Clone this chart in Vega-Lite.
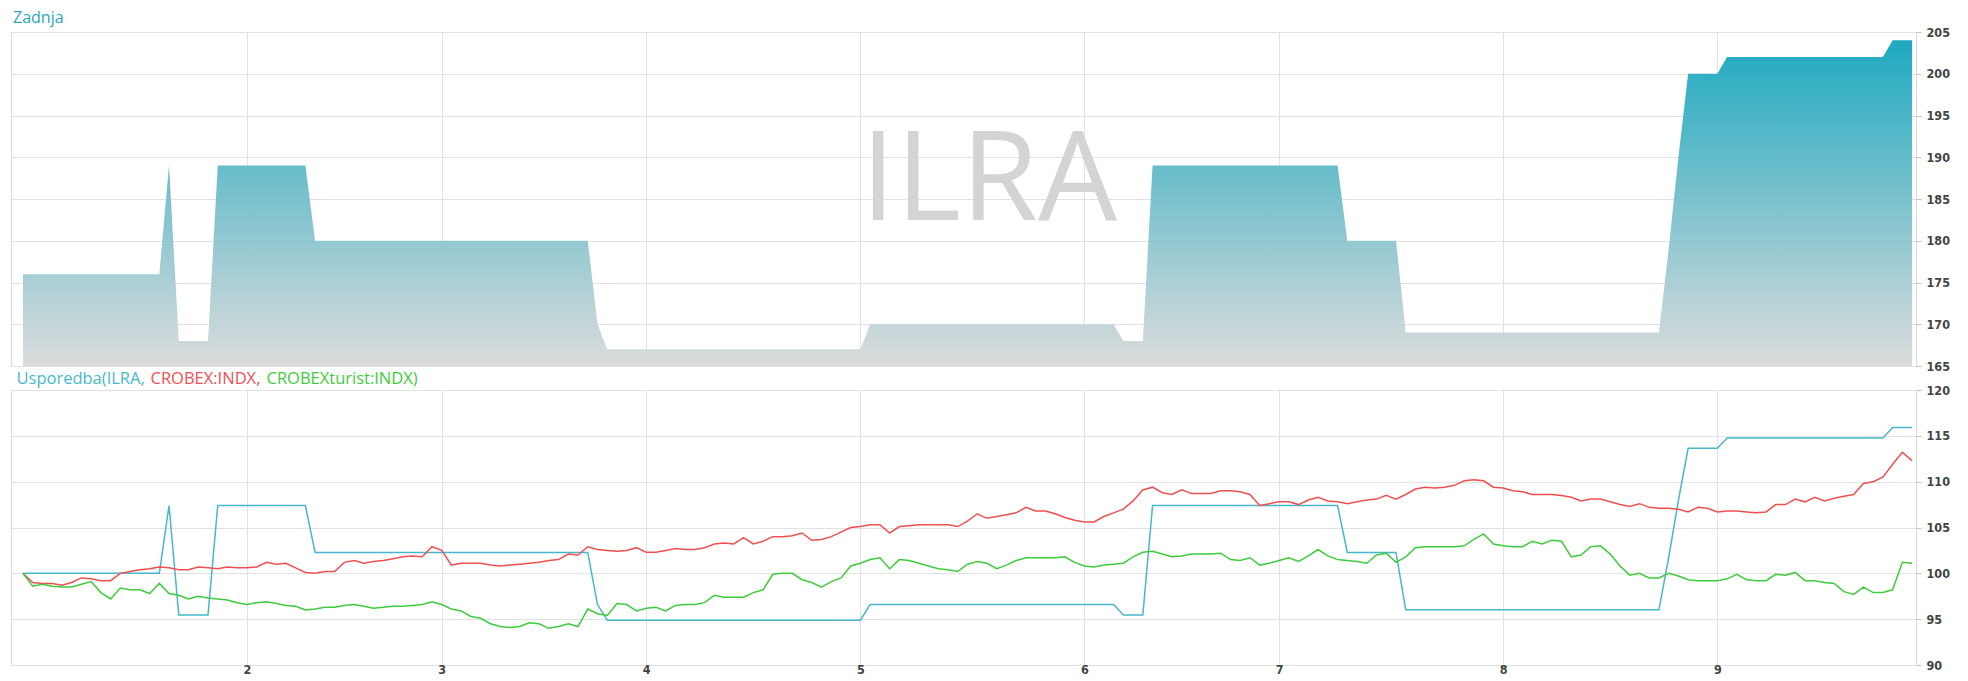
{
"$schema": "https://vega.github.io/schema/vega-lite/v6.json",
"background": "white",
"padding": {"left": 10, "top": 9, "right": 0, "bottom": 0},
"autosize": {"type": "pad"},
"bounds": "flush",
"spacing": 24,
"config": {
  "view": {"stroke": "#d9d9d9", "strokeWidth": 1},
  "axis": {"gridColor": "#e2e2e2", "domainColor": "#d9d9d9", "tickColor": "#c4c4c4", "labelFont": "'DejaVu Sans Condensed', 'Liberation Sans', sans-serif", "labelFontWeight": "bold", "labelColor": "#444444", "labelFontSize": 12.5, "title": null}
},
"datasets": {"d": [
{"i":0,"zadnja":176,"ILRA":100,"CROBEX":100,"CROBEXturist":100},
{"i":1,"zadnja":176,"ILRA":100,"CROBEX":99.0,"CROBEXturist":98.6},
{"i":2,"zadnja":176,"ILRA":100,"CROBEX":98.9,"CROBEXturist":98.8},
{"i":3,"zadnja":176,"ILRA":100,"CROBEX":98.9,"CROBEXturist":98.6},
{"i":4,"zadnja":176,"ILRA":100,"CROBEX":98.7,"CROBEXturist":98.5},
{"i":5,"zadnja":176,"ILRA":100,"CROBEX":99.0,"CROBEXturist":98.5},
{"i":6,"zadnja":176,"ILRA":100,"CROBEX":99.5,"CROBEXturist":98.8},
{"i":7,"zadnja":176,"ILRA":100,"CROBEX":99.4,"CROBEXturist":99.1},
{"i":8,"zadnja":176,"ILRA":100,"CROBEX":99.2,"CROBEXturist":97.9},
{"i":9,"zadnja":176,"ILRA":100,"CROBEX":99.2,"CROBEXturist":97.2},
{"i":10,"zadnja":176,"ILRA":100,"CROBEX":100.0,"CROBEXturist":98.4},
{"i":11,"zadnja":176,"ILRA":100,"CROBEX":100.2,"CROBEXturist":98.2},
{"i":12,"zadnja":176,"ILRA":100,"CROBEX":100.4,"CROBEXturist":98.2},
{"i":13,"zadnja":176,"ILRA":100,"CROBEX":100.5,"CROBEXturist":97.8},
{"i":14,"zadnja":176,"ILRA":100,"CROBEX":100.7,"CROBEXturist":98.9},
{"i":15,"zadnja":189,"ILRA":107.39,"CROBEX":100.6,"CROBEXturist":97.8},
{"i":16,"zadnja":168,"ILRA":95.45,"CROBEX":100.4,"CROBEXturist":97.6},
{"i":17,"zadnja":168,"ILRA":95.45,"CROBEX":100.4,"CROBEXturist":97.2},
{"i":18,"zadnja":168,"ILRA":95.45,"CROBEX":100.7,"CROBEXturist":97.5},
{"i":19,"zadnja":168,"ILRA":95.45,"CROBEX":100.6,"CROBEXturist":97.3},
{"i":20,"zadnja":189,"ILRA":107.39,"CROBEX":100.5,"CROBEXturist":97.2},
{"i":21,"zadnja":189,"ILRA":107.39,"CROBEX":100.7,"CROBEXturist":97.1},
{"i":22,"zadnja":189,"ILRA":107.39,"CROBEX":100.6,"CROBEXturist":96.8},
{"i":23,"zadnja":189,"ILRA":107.39,"CROBEX":100.6,"CROBEXturist":96.6},
{"i":24,"zadnja":189,"ILRA":107.39,"CROBEX":100.7,"CROBEXturist":96.8},
{"i":25,"zadnja":189,"ILRA":107.39,"CROBEX":101.2,"CROBEXturist":96.9},
{"i":26,"zadnja":189,"ILRA":107.39,"CROBEX":101.0,"CROBEXturist":96.7},
{"i":27,"zadnja":189,"ILRA":107.39,"CROBEX":101.1,"CROBEXturist":96.5},
{"i":28,"zadnja":189,"ILRA":107.39,"CROBEX":100.6,"CROBEXturist":96.4},
{"i":29,"zadnja":189,"ILRA":107.39,"CROBEX":100.1,"CROBEXturist":96.0},
{"i":30,"zadnja":180,"ILRA":102.27,"CROBEX":100.0,"CROBEXturist":96.1},
{"i":31,"zadnja":180,"ILRA":102.27,"CROBEX":100.2,"CROBEXturist":96.3},
{"i":32,"zadnja":180,"ILRA":102.27,"CROBEX":100.2,"CROBEXturist":96.3},
{"i":33,"zadnja":180,"ILRA":102.27,"CROBEX":101.2,"CROBEXturist":96.5},
{"i":34,"zadnja":180,"ILRA":102.27,"CROBEX":101.4,"CROBEXturist":96.6},
{"i":35,"zadnja":180,"ILRA":102.27,"CROBEX":101.1,"CROBEXturist":96.4},
{"i":36,"zadnja":180,"ILRA":102.27,"CROBEX":101.3,"CROBEXturist":96.2},
{"i":37,"zadnja":180,"ILRA":102.27,"CROBEX":101.4,"CROBEXturist":96.3},
{"i":38,"zadnja":180,"ILRA":102.27,"CROBEX":101.6,"CROBEXturist":96.4},
{"i":39,"zadnja":180,"ILRA":102.27,"CROBEX":101.8,"CROBEXturist":96.4},
{"i":40,"zadnja":180,"ILRA":102.27,"CROBEX":101.9,"CROBEXturist":96.5},
{"i":41,"zadnja":180,"ILRA":102.27,"CROBEX":101.8,"CROBEXturist":96.6},
{"i":42,"zadnja":180,"ILRA":102.27,"CROBEX":102.9,"CROBEXturist":96.9},
{"i":43,"zadnja":180,"ILRA":102.27,"CROBEX":102.5,"CROBEXturist":96.6},
{"i":44,"zadnja":180,"ILRA":102.27,"CROBEX":100.9,"CROBEXturist":96.1},
{"i":45,"zadnja":180,"ILRA":102.27,"CROBEX":101.1,"CROBEXturist":95.9},
{"i":46,"zadnja":180,"ILRA":102.27,"CROBEX":101.1,"CROBEXturist":95.3},
{"i":47,"zadnja":180,"ILRA":102.27,"CROBEX":101.1,"CROBEXturist":95.1},
{"i":48,"zadnja":180,"ILRA":102.27,"CROBEX":100.9,"CROBEXturist":94.5},
{"i":49,"zadnja":180,"ILRA":102.27,"CROBEX":100.8,"CROBEXturist":94.2},
{"i":50,"zadnja":180,"ILRA":102.27,"CROBEX":100.9,"CROBEXturist":94.1},
{"i":51,"zadnja":180,"ILRA":102.27,"CROBEX":101.0,"CROBEXturist":94.2},
{"i":52,"zadnja":180,"ILRA":102.27,"CROBEX":101.1,"CROBEXturist":94.6},
{"i":53,"zadnja":180,"ILRA":102.27,"CROBEX":101.2,"CROBEXturist":94.5},
{"i":54,"zadnja":180,"ILRA":102.27,"CROBEX":101.4,"CROBEXturist":94.0},
{"i":55,"zadnja":180,"ILRA":102.27,"CROBEX":101.5,"CROBEXturist":94.2},
{"i":56,"zadnja":180,"ILRA":102.27,"CROBEX":102.1,"CROBEXturist":94.5},
{"i":57,"zadnja":180,"ILRA":102.27,"CROBEX":102.0,"CROBEXturist":94.2},
{"i":58,"zadnja":180,"ILRA":102.27,"CROBEX":102.9,"CROBEXturist":96.1},
{"i":59,"zadnja":170,"ILRA":96.59,"CROBEX":102.6,"CROBEXturist":95.6},
{"i":60,"zadnja":167,"ILRA":94.89,"CROBEX":102.5,"CROBEXturist":95.4},
{"i":61,"zadnja":167,"ILRA":94.89,"CROBEX":102.4,"CROBEXturist":96.7},
{"i":62,"zadnja":167,"ILRA":94.89,"CROBEX":102.5,"CROBEXturist":96.6},
{"i":63,"zadnja":167,"ILRA":94.89,"CROBEX":102.8,"CROBEXturist":95.9},
{"i":64,"zadnja":167,"ILRA":94.89,"CROBEX":102.3,"CROBEXturist":96.2},
{"i":65,"zadnja":167,"ILRA":94.89,"CROBEX":102.3,"CROBEXturist":96.3},
{"i":66,"zadnja":167,"ILRA":94.89,"CROBEX":102.5,"CROBEXturist":95.9},
{"i":67,"zadnja":167,"ILRA":94.89,"CROBEX":102.7,"CROBEXturist":96.5},
{"i":68,"zadnja":167,"ILRA":94.89,"CROBEX":102.6,"CROBEXturist":96.6},
{"i":69,"zadnja":167,"ILRA":94.89,"CROBEX":102.6,"CROBEXturist":96.6},
{"i":70,"zadnja":167,"ILRA":94.89,"CROBEX":102.8,"CROBEXturist":96.8},
{"i":71,"zadnja":167,"ILRA":94.89,"CROBEX":103.2,"CROBEXturist":97.6},
{"i":72,"zadnja":167,"ILRA":94.89,"CROBEX":103.3,"CROBEXturist":97.4},
{"i":73,"zadnja":167,"ILRA":94.89,"CROBEX":103.2,"CROBEXturist":97.4},
{"i":74,"zadnja":167,"ILRA":94.89,"CROBEX":103.9,"CROBEXturist":97.4},
{"i":75,"zadnja":167,"ILRA":94.89,"CROBEX":103.2,"CROBEXturist":97.9},
{"i":76,"zadnja":167,"ILRA":94.89,"CROBEX":103.5,"CROBEXturist":98.2},
{"i":77,"zadnja":167,"ILRA":94.89,"CROBEX":104.0,"CROBEXturist":99.9},
{"i":78,"zadnja":167,"ILRA":94.89,"CROBEX":104.0,"CROBEXturist":100.0},
{"i":79,"zadnja":167,"ILRA":94.89,"CROBEX":104.1,"CROBEXturist":100.0},
{"i":80,"zadnja":167,"ILRA":94.89,"CROBEX":104.4,"CROBEXturist":99.3},
{"i":81,"zadnja":167,"ILRA":94.89,"CROBEX":103.6,"CROBEXturist":99.0},
{"i":82,"zadnja":167,"ILRA":94.89,"CROBEX":103.7,"CROBEXturist":98.5},
{"i":83,"zadnja":167,"ILRA":94.89,"CROBEX":104.0,"CROBEXturist":99.1},
{"i":84,"zadnja":167,"ILRA":94.89,"CROBEX":104.5,"CROBEXturist":99.5},
{"i":85,"zadnja":167,"ILRA":94.89,"CROBEX":105.0,"CROBEXturist":100.8},
{"i":86,"zadnja":167,"ILRA":94.89,"CROBEX":105.1,"CROBEXturist":101.1},
{"i":87,"zadnja":170,"ILRA":96.59,"CROBEX":105.3,"CROBEXturist":101.5},
{"i":88,"zadnja":170,"ILRA":96.59,"CROBEX":105.3,"CROBEXturist":101.7},
{"i":89,"zadnja":170,"ILRA":96.59,"CROBEX":104.4,"CROBEXturist":100.5},
{"i":90,"zadnja":170,"ILRA":96.59,"CROBEX":105.1,"CROBEXturist":101.5},
{"i":91,"zadnja":170,"ILRA":96.59,"CROBEX":105.2,"CROBEXturist":101.4},
{"i":92,"zadnja":170,"ILRA":96.59,"CROBEX":105.3,"CROBEXturist":101.1},
{"i":93,"zadnja":170,"ILRA":96.59,"CROBEX":105.3,"CROBEXturist":100.8},
{"i":94,"zadnja":170,"ILRA":96.59,"CROBEX":105.3,"CROBEXturist":100.5},
{"i":95,"zadnja":170,"ILRA":96.59,"CROBEX":105.3,"CROBEXturist":100.4},
{"i":96,"zadnja":170,"ILRA":96.59,"CROBEX":105.1,"CROBEXturist":100.2},
{"i":97,"zadnja":170,"ILRA":96.59,"CROBEX":105.7,"CROBEXturist":101.0},
{"i":98,"zadnja":170,"ILRA":96.59,"CROBEX":106.5,"CROBEXturist":101.3},
{"i":99,"zadnja":170,"ILRA":96.59,"CROBEX":106.0,"CROBEXturist":101.1},
{"i":100,"zadnja":170,"ILRA":96.59,"CROBEX":106.2,"CROBEXturist":100.5},
{"i":101,"zadnja":170,"ILRA":96.59,"CROBEX":106.4,"CROBEXturist":100.9},
{"i":102,"zadnja":170,"ILRA":96.59,"CROBEX":106.6,"CROBEXturist":101.4},
{"i":103,"zadnja":170,"ILRA":96.59,"CROBEX":107.2,"CROBEXturist":101.7},
{"i":104,"zadnja":170,"ILRA":96.59,"CROBEX":106.8,"CROBEXturist":101.7},
{"i":105,"zadnja":170,"ILRA":96.59,"CROBEX":106.8,"CROBEXturist":101.7},
{"i":106,"zadnja":170,"ILRA":96.59,"CROBEX":106.5,"CROBEXturist":101.7},
{"i":107,"zadnja":170,"ILRA":96.59,"CROBEX":106.1,"CROBEXturist":101.8},
{"i":108,"zadnja":170,"ILRA":96.59,"CROBEX":105.8,"CROBEXturist":101.2},
{"i":109,"zadnja":170,"ILRA":96.59,"CROBEX":105.6,"CROBEXturist":100.8},
{"i":110,"zadnja":170,"ILRA":96.59,"CROBEX":105.6,"CROBEXturist":100.7},
{"i":111,"zadnja":170,"ILRA":96.59,"CROBEX":106.2,"CROBEXturist":100.9},
{"i":112,"zadnja":170,"ILRA":96.59,"CROBEX":106.6,"CROBEXturist":101.0},
{"i":113,"zadnja":168,"ILRA":95.45,"CROBEX":107.0,"CROBEXturist":101.1},
{"i":114,"zadnja":168,"ILRA":95.45,"CROBEX":107.9,"CROBEXturist":101.8},
{"i":115,"zadnja":168,"ILRA":95.45,"CROBEX":109.1,"CROBEXturist":102.3},
{"i":116,"zadnja":189,"ILRA":107.39,"CROBEX":109.4,"CROBEXturist":102.4},
{"i":117,"zadnja":189,"ILRA":107.39,"CROBEX":108.8,"CROBEXturist":102.1},
{"i":118,"zadnja":189,"ILRA":107.39,"CROBEX":108.6,"CROBEXturist":101.8},
{"i":119,"zadnja":189,"ILRA":107.39,"CROBEX":109.1,"CROBEXturist":101.9},
{"i":120,"zadnja":189,"ILRA":107.39,"CROBEX":108.7,"CROBEXturist":102.1},
{"i":121,"zadnja":189,"ILRA":107.39,"CROBEX":108.7,"CROBEXturist":102.1},
{"i":122,"zadnja":189,"ILRA":107.39,"CROBEX":108.7,"CROBEXturist":102.1},
{"i":123,"zadnja":189,"ILRA":107.39,"CROBEX":109.0,"CROBEXturist":102.2},
{"i":124,"zadnja":189,"ILRA":107.39,"CROBEX":109.0,"CROBEXturist":101.5},
{"i":125,"zadnja":189,"ILRA":107.39,"CROBEX":108.9,"CROBEXturist":101.4},
{"i":126,"zadnja":189,"ILRA":107.39,"CROBEX":108.6,"CROBEXturist":101.7},
{"i":127,"zadnja":189,"ILRA":107.39,"CROBEX":107.4,"CROBEXturist":100.9},
{"i":128,"zadnja":189,"ILRA":107.39,"CROBEX":107.6,"CROBEXturist":101.1},
{"i":129,"zadnja":189,"ILRA":107.39,"CROBEX":107.8,"CROBEXturist":101.4},
{"i":130,"zadnja":189,"ILRA":107.39,"CROBEX":107.8,"CROBEXturist":101.7},
{"i":131,"zadnja":189,"ILRA":107.39,"CROBEX":107.5,"CROBEXturist":101.3},
{"i":132,"zadnja":189,"ILRA":107.39,"CROBEX":108.0,"CROBEXturist":101.9},
{"i":133,"zadnja":189,"ILRA":107.39,"CROBEX":108.3,"CROBEXturist":102.6},
{"i":134,"zadnja":189,"ILRA":107.39,"CROBEX":107.9,"CROBEXturist":101.9},
{"i":135,"zadnja":189,"ILRA":107.39,"CROBEX":107.8,"CROBEXturist":101.5},
{"i":136,"zadnja":180,"ILRA":102.27,"CROBEX":107.6,"CROBEXturist":101.4},
{"i":137,"zadnja":180,"ILRA":102.27,"CROBEX":107.8,"CROBEXturist":101.3},
{"i":138,"zadnja":180,"ILRA":102.27,"CROBEX":108.0,"CROBEXturist":101.1},
{"i":139,"zadnja":180,"ILRA":102.27,"CROBEX":108.1,"CROBEXturist":102.0},
{"i":140,"zadnja":180,"ILRA":102.27,"CROBEX":108.5,"CROBEXturist":102.2},
{"i":141,"zadnja":180,"ILRA":102.27,"CROBEX":108.1,"CROBEXturist":101.2},
{"i":142,"zadnja":169,"ILRA":96.02,"CROBEX":108.6,"CROBEXturist":101.8},
{"i":143,"zadnja":169,"ILRA":96.02,"CROBEX":109.2,"CROBEXturist":102.8},
{"i":144,"zadnja":169,"ILRA":96.02,"CROBEX":109.4,"CROBEXturist":102.9},
{"i":145,"zadnja":169,"ILRA":96.02,"CROBEX":109.3,"CROBEXturist":102.9},
{"i":146,"zadnja":169,"ILRA":96.02,"CROBEX":109.4,"CROBEXturist":102.9},
{"i":147,"zadnja":169,"ILRA":96.02,"CROBEX":109.6,"CROBEXturist":102.9},
{"i":148,"zadnja":169,"ILRA":96.02,"CROBEX":110.1,"CROBEXturist":103.0},
{"i":149,"zadnja":169,"ILRA":96.02,"CROBEX":110.2,"CROBEXturist":103.7},
{"i":150,"zadnja":169,"ILRA":96.02,"CROBEX":110.1,"CROBEXturist":104.3},
{"i":151,"zadnja":169,"ILRA":96.02,"CROBEX":109.4,"CROBEXturist":103.2},
{"i":152,"zadnja":169,"ILRA":96.02,"CROBEX":109.3,"CROBEXturist":103.0},
{"i":153,"zadnja":169,"ILRA":96.02,"CROBEX":109.0,"CROBEXturist":102.9},
{"i":154,"zadnja":169,"ILRA":96.02,"CROBEX":108.9,"CROBEXturist":102.9},
{"i":155,"zadnja":169,"ILRA":96.02,"CROBEX":108.6,"CROBEXturist":103.5},
{"i":156,"zadnja":169,"ILRA":96.02,"CROBEX":108.6,"CROBEXturist":103.2},
{"i":157,"zadnja":169,"ILRA":96.02,"CROBEX":108.6,"CROBEXturist":103.6},
{"i":158,"zadnja":169,"ILRA":96.02,"CROBEX":108.5,"CROBEXturist":103.5},
{"i":159,"zadnja":169,"ILRA":96.02,"CROBEX":108.3,"CROBEXturist":101.8},
{"i":160,"zadnja":169,"ILRA":96.02,"CROBEX":107.9,"CROBEXturist":102.0},
{"i":161,"zadnja":169,"ILRA":96.02,"CROBEX":108.1,"CROBEXturist":102.9},
{"i":162,"zadnja":169,"ILRA":96.02,"CROBEX":108.1,"CROBEXturist":103.0},
{"i":163,"zadnja":169,"ILRA":96.02,"CROBEX":107.8,"CROBEXturist":102.1},
{"i":164,"zadnja":169,"ILRA":96.02,"CROBEX":107.5,"CROBEXturist":100.8},
{"i":165,"zadnja":169,"ILRA":96.02,"CROBEX":107.3,"CROBEXturist":99.8},
{"i":166,"zadnja":169,"ILRA":96.02,"CROBEX":107.6,"CROBEXturist":100.0},
{"i":167,"zadnja":169,"ILRA":96.02,"CROBEX":107.2,"CROBEXturist":99.5},
{"i":168,"zadnja":169,"ILRA":96.02,"CROBEX":107.1,"CROBEXturist":99.5},
{"i":169,"zadnja":179,"ILRA":101.70,"CROBEX":107.1,"CROBEXturist":100.0},
{"i":170,"zadnja":190,"ILRA":107.95,"CROBEX":107.0,"CROBEXturist":99.7},
{"i":171,"zadnja":200,"ILRA":113.64,"CROBEX":106.7,"CROBEXturist":99.3},
{"i":172,"zadnja":200,"ILRA":113.64,"CROBEX":107.2,"CROBEXturist":99.2},
{"i":173,"zadnja":200,"ILRA":113.64,"CROBEX":107.1,"CROBEXturist":99.2},
{"i":174,"zadnja":200,"ILRA":113.64,"CROBEX":106.7,"CROBEXturist":99.2},
{"i":175,"zadnja":202,"ILRA":114.77,"CROBEX":106.8,"CROBEXturist":99.4},
{"i":176,"zadnja":202,"ILRA":114.77,"CROBEX":106.8,"CROBEXturist":99.9},
{"i":177,"zadnja":202,"ILRA":114.77,"CROBEX":106.7,"CROBEXturist":99.3},
{"i":178,"zadnja":202,"ILRA":114.77,"CROBEX":106.6,"CROBEXturist":99.2},
{"i":179,"zadnja":202,"ILRA":114.77,"CROBEX":106.7,"CROBEXturist":99.2},
{"i":180,"zadnja":202,"ILRA":114.77,"CROBEX":107.5,"CROBEXturist":99.9},
{"i":181,"zadnja":202,"ILRA":114.77,"CROBEX":107.5,"CROBEXturist":99.8},
{"i":182,"zadnja":202,"ILRA":114.77,"CROBEX":108.1,"CROBEXturist":100.1},
{"i":183,"zadnja":202,"ILRA":114.77,"CROBEX":107.8,"CROBEXturist":99.2},
{"i":184,"zadnja":202,"ILRA":114.77,"CROBEX":108.3,"CROBEXturist":99.2},
{"i":185,"zadnja":202,"ILRA":114.77,"CROBEX":107.9,"CROBEXturist":99.0},
{"i":186,"zadnja":202,"ILRA":114.77,"CROBEX":108.2,"CROBEXturist":98.9},
{"i":187,"zadnja":202,"ILRA":114.77,"CROBEX":108.4,"CROBEXturist":98.0},
{"i":188,"zadnja":202,"ILRA":114.77,"CROBEX":108.6,"CROBEXturist":97.7},
{"i":189,"zadnja":202,"ILRA":114.77,"CROBEX":109.8,"CROBEXturist":98.5},
{"i":190,"zadnja":202,"ILRA":114.77,"CROBEX":110.0,"CROBEXturist":97.9},
{"i":191,"zadnja":202,"ILRA":114.77,"CROBEX":110.5,"CROBEXturist":97.9},
{"i":192,"zadnja":204,"ILRA":115.91,"CROBEX":111.9,"CROBEXturist":98.2},
{"i":193,"zadnja":204,"ILRA":115.91,"CROBEX":113.2,"CROBEXturist":101.2},
{"i":194,"zadnja":204,"ILRA":115.91,"CROBEX":112.3,"CROBEXturist":101.1}
]},
"vconcat": [
  {
    "width": 1905,
    "height": 334,
    "title": {"text": "Zadnja", "anchor": "start", "color": "#2ba7bb", "fontSize": 16, "font": "Open Sans", "fontWeight": "normal", "offset": 0, "dx": 2},
    "data": {"name": "d"},
    "layer": [
      {
        "mark": {"type": "area", "clip": true, "fill": {"gradient": "linear", "x1": 0, "y1": 0, "x2": 0, "y2": 1, "stops": [{"offset": 0, "color": "#1ea9c0"}, {"offset": 1, "color": "#dcdcdc"}]}},
        "encoding": {
          "x": {"field": "i", "type": "quantitative", "scale": {"domain": [-1.23, 194.4], "nice": false, "zero": false}, "axis": {"values": [23, 43, 64, 86, 109, 129, 152, 174], "labels": false, "ticks": false, "domain": false, "grid": true}},
          "y": {"field": "zadnja", "type": "quantitative", "scale": {"domain": [165, 205], "nice": false, "zero": false}, "axis": {"orient": "right", "values": [165, 170, 175, 180, 185, 190, 195, 200, 205], "grid": true, "tickSize": 5, "labelPadding": 5, "domain": false}},
          "y2": {"datum": 165}
        }
      },
      {
        "data": {"values": [{"t": "ILRA"}]},
        "mark": {"type": "text", "fontSize": 125, "font": "Open Sans", "color": "#d4d4d4", "baseline": "middle", "align": "center"},
        "encoding": {"text": {"field": "t"}, "x": {"datum": 99.2}, "y": {"datum": 187}}
      }
    ]
  },
  {
    "width": 1905,
    "height": 275,
    "data": {"name": "d"},
    "transform": [{"fold": ["ILRA", "CROBEX", "CROBEXturist"], "as": ["series", "value"]}],
    "mark": {"type": "line", "strokeWidth": 1.5, "clip": true},
    "encoding": {
      "x": {"field": "i", "type": "quantitative", "scale": {"domain": [-1.23, 194.4], "nice": false, "zero": false}, "axis": {"values": [23, 43, 64, 86, 109, 129, 152, 174], "labelExpr": "indexof([23,43,64,86,109,129,152,174], datum.value) + 2", "grid": true, "ticks": false, "domain": false, "labelPadding": -2}},
      "y": {"field": "value", "type": "quantitative", "scale": {"domain": [90, 120], "nice": false, "zero": false}, "axis": {"orient": "right", "values": [90, 95, 100, 105, 110, 115, 120], "grid": true, "tickSize": 5, "labelPadding": 5, "domain": false}},
      "color": {"field": "series", "type": "nominal", "scale": {"domain": ["ILRA", "CROBEX", "CROBEXturist"], "range": ["#47b8ca", "#ee5050", "#3fcc3c"]},
        "legend": {"orient": "none", "legendX": 2, "legendY": 339, "direction": "horizontal", "gridAlign": "none", "title": null, "symbolSize": 0, "symbolStrokeWidth": 0, "symbolOpacity": 0, "labelOffset": -13, "columnPadding": 2, "labelFontSize": 16.5, "labelFont": "Open Sans", "padding": 0,
          "labelExpr": "datum.label == 'ILRA' ? 'Usporedba(ILRA,' : datum.label == 'CROBEX' ? 'CROBEX:INDX,' : 'CROBEXturist:INDX)'",
          "encode": {"labels": {"update": {"fill": {"scale": "color", "field": "value"}}}}}}
    }
  }
]
}
